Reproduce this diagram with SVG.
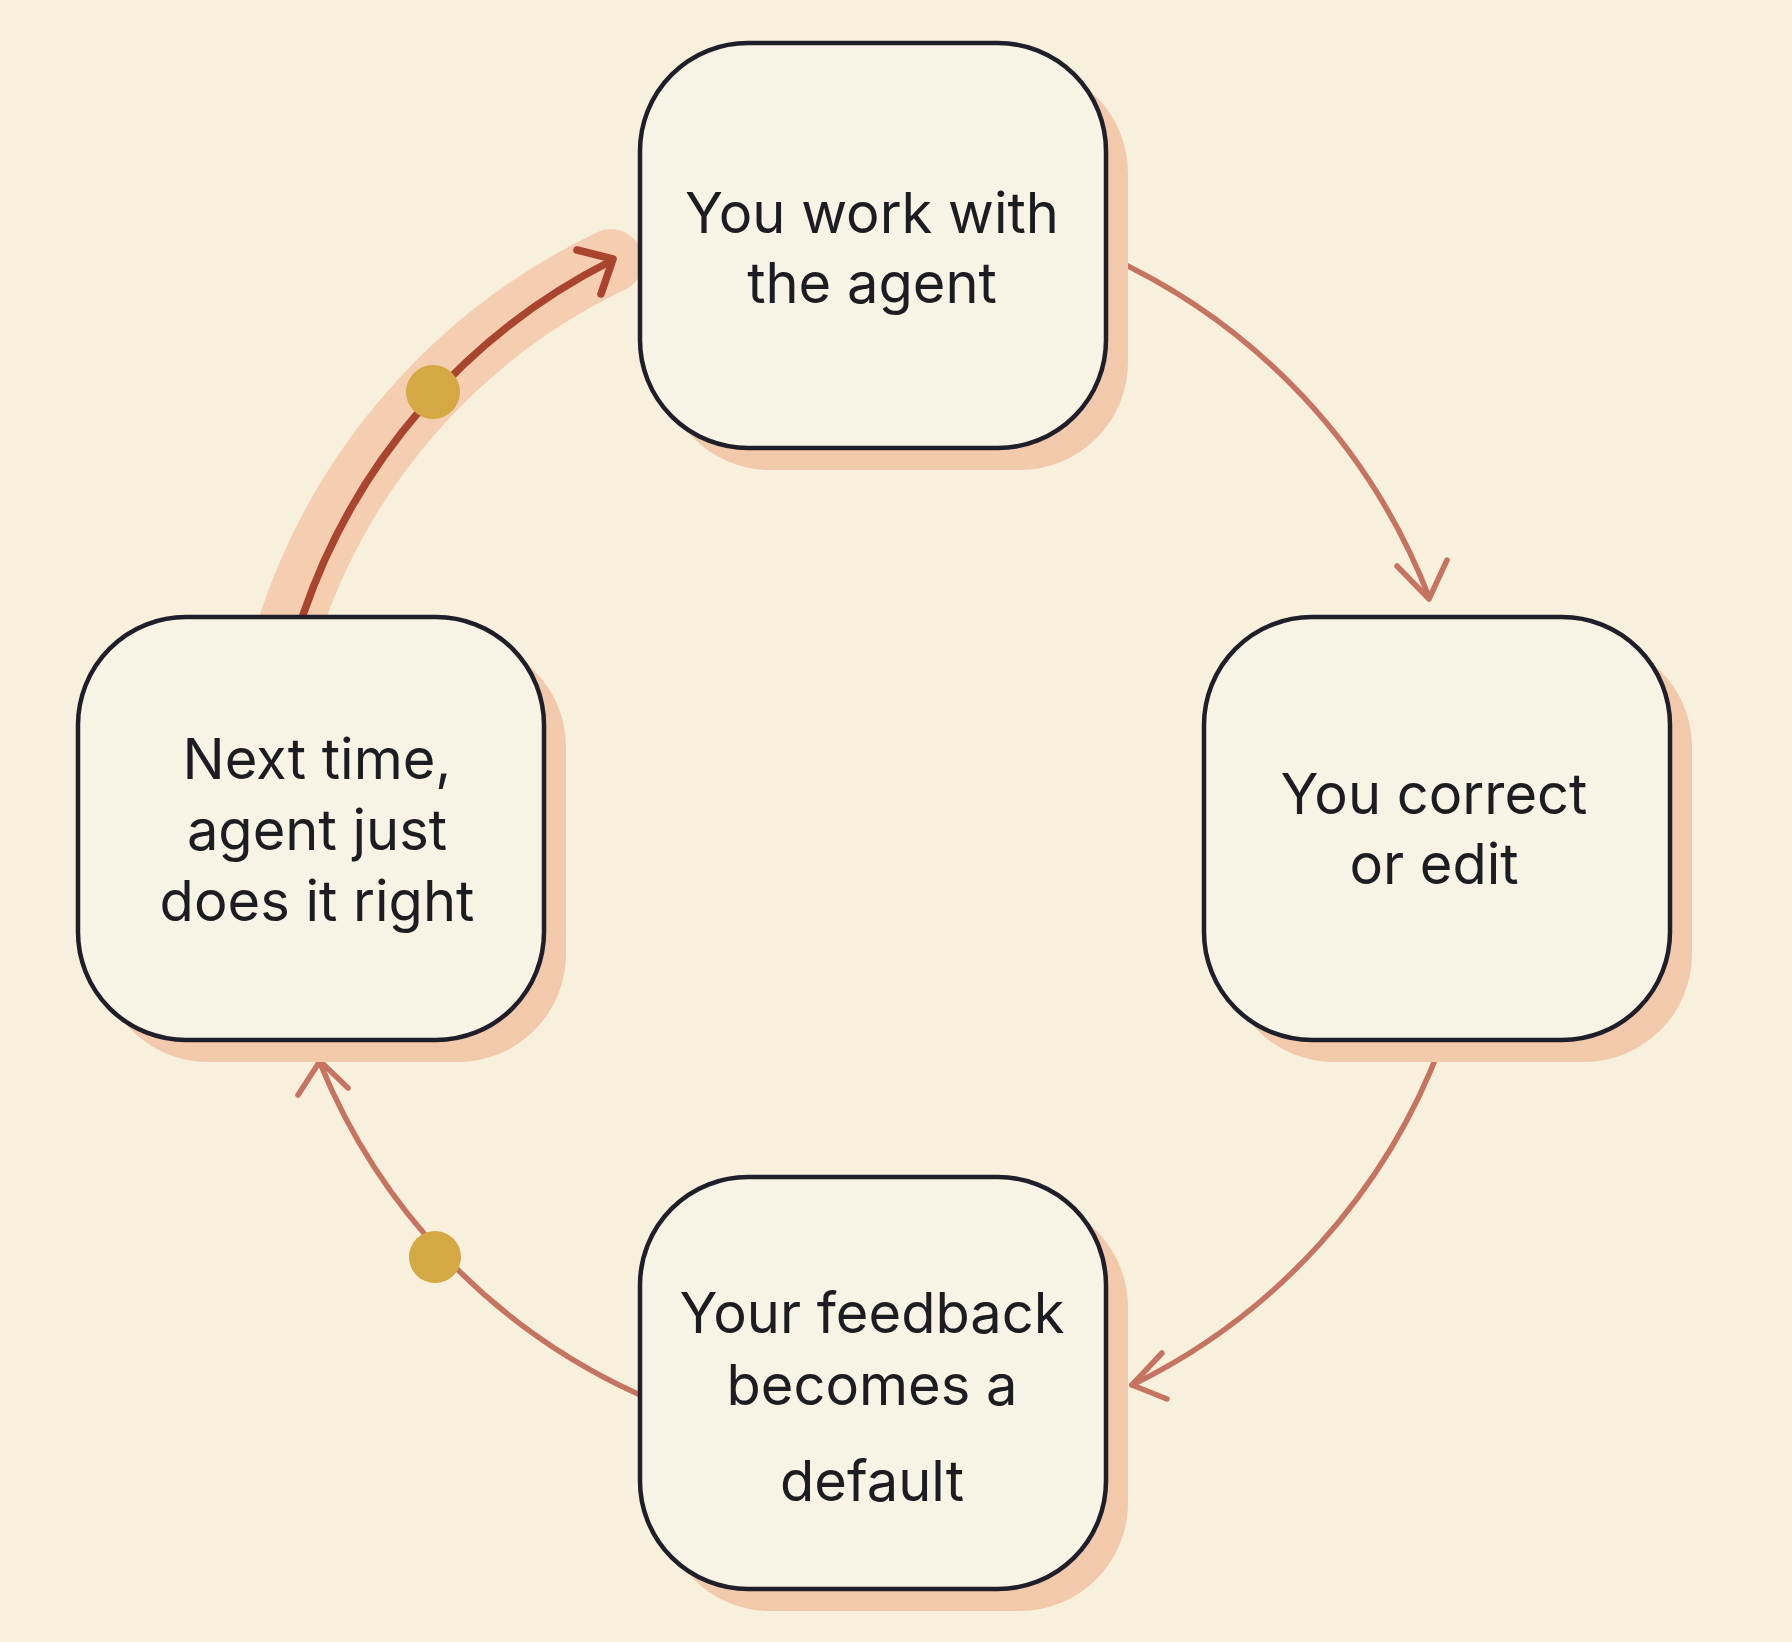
<svg xmlns="http://www.w3.org/2000/svg" width="1792" height="1642" viewBox="0 0 1792 1642">
<defs>
<style>
.shadow{fill:#f3c9ab}
.box{fill:#f8f4e5;stroke:#1f1f2b;stroke-width:4.5}
.t{font-family:"Inter","Liberation Sans",sans-serif;font-size:56px;fill:#1c1c22;text-anchor:middle}
.arr{fill:none;stroke:#c6745f;stroke-width:5.5;stroke-linecap:round;stroke-linejoin:round}
.hi{fill:none;stroke:#a9442f;stroke-width:7.5;stroke-linecap:round;stroke-linejoin:round}
.dot{fill:#d4a843}
</style>
</defs>
<rect width="1792" height="1642" fill="#f7f0dd"/>
<g id="connectors">
<path d="M1109 257 A620 620 0 0 1 1429 597" class="arr"/>
<path d="M1397 566 L1429 599 L1447 560" class="arr"/>
<path d="M1442 1042 A620 620 0 0 1 1132 1385" class="arr"/>
<path d="M1162 1353 L1132 1385 L1167 1399" class="arr"/>
<path d="M638 1394 A620 620 0 0 1 320 1063" class="arr"/>
<path d="M298 1095 L320 1061 L348 1088" class="arr"/>
<circle cx="435" cy="1257" r="26" class="dot"/>
<path d="M290 625 A620 620 0 0 1 611 261" fill="none" stroke="#f4c8aa" stroke-width="64" stroke-linecap="round" opacity="0.85"/>
<path d="M303 615 A620 620 0 0 1 611 261" class="hi"/>
<path d="M577 250 L613 259 L601 294" class="hi"/>
<circle cx="433" cy="392" r="27" class="dot"/>
</g>
<g id="n1">
<rect x="662" y="65" width="466" height="405" rx="108" class="shadow"/>
<rect x="640" y="43" width="466" height="405" rx="108" class="box"/>
<text x="872" y="233" class="t">You work with</text>
<text x="872" y="303" class="t">the agent</text>
</g>
<g id="n2">
<rect x="1226" y="639" width="466" height="423" rx="108" class="shadow"/>
<rect x="1204" y="617" width="466" height="423" rx="108" class="box"/>
<text x="1434" y="814" class="t">You correct</text>
<text x="1434" y="884" class="t">or edit</text>
</g>
<g id="n3">
<rect x="662" y="1199" width="466" height="412" rx="108" class="shadow"/>
<rect x="640" y="1177" width="466" height="412" rx="108" class="box"/>
<text x="872" y="1333" class="t">Your feedback</text>
<text x="872" y="1405" class="t">becomes a</text>
<text x="872" y="1501" class="t">default</text>
</g>
<g id="n4">
<rect x="100" y="639" width="466" height="423" rx="108" class="shadow"/>
<rect x="78" y="617" width="466" height="423" rx="108" class="box"/>
<text x="317" y="779" class="t">Next time,</text>
<text x="317" y="850" class="t">agent just</text>
<text x="317" y="921" class="t">does it right</text>
</g>
</svg>
